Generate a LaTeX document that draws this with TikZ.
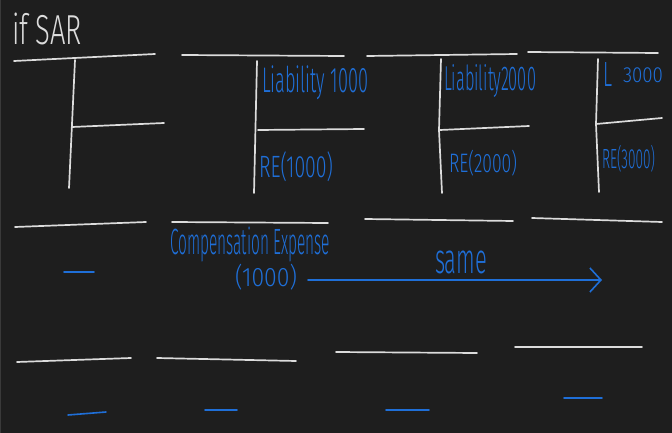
\documentclass[tikz,border=0pt]{standalone}
\usepackage{fontspec}
\usepackage{graphicx}
\setmainfont{Fira Sans Light}
\usetikzlibrary{arrows.meta}
\definecolor{bgdark}{HTML}{1E1E1E}
\definecolor{chalk}{HTML}{DCDCDC}
\definecolor{handblue}{HTML}{1F6FD8}
\definecolor{edgegray}{HTML}{3A3A3A}
\newcommand{\handtext}[3]{\resizebox*{#1pt}{#2pt}{#3}}
\begin{document}
\begin{tikzpicture}[x=1pt,y=-1pt,
  chalk/.style={draw=chalk, line width=1.7pt, line cap=round, line join=round},
  ink/.style={draw=handblue, line width=1.6pt, line cap=round},
  txt/.style={inner sep=0pt, outer sep=0pt, anchor=north west, text=handblue},
]
\fill[bgdark] (0,0) rectangle (672,433);
\useasboundingbox (0,0) rectangle (672,433);
\draw[edgegray, line width=1pt] (0.5,0) -- (0.5,433);

% title
\node[txt, text=chalk] (title) at (12,13) {\handtext{70}{32}{if SAR}};

% T-account 1
\draw[chalk] (14,61) -- (155,54);
\draw[chalk] (75,60) -- (69,188);
\draw[chalk] (72,127) -- (164,123);

% T-account 2
\draw[chalk] (182,55) -- (344,56);
\draw[chalk] (257,61) -- (254,193);
\draw[chalk] (258,130) -- (364,129);
\node[txt] (liab1) at (262,66) {\handtext{106}{34}{Liability 1000}};
\node[txt] (re1) at (259,152) {\handtext{74}{30}{RE(1000)}};

% T-account 3
\draw[chalk] (367,56) -- (517,54);
\draw[chalk] (441,59) -- (439,130) -- (442,193);
\draw[chalk] (440,130) -- (529,126);
\node[txt] (liab2) at (444,65) {\handtext{92}{33}{Liability2000}};
\node[txt] (re2) at (449,150) {\handtext{68}{26}{RE(2000)}};

% T-account 4
\draw[chalk] (528,52) -- (658,53);
\draw[chalk] (598,59) -- (596,124) -- (599,192);
\draw[chalk] (596,124) -- (662,118);
\node[txt] (lthree) at (603,62) {\handtext{9}{24}{L}};
\node[txt] (lamt) at (623,68) {\handtext{40}{15}{3000}};
\node[txt] (re3) at (602,145) {\handtext{53}{27}{RE(3000)}};

% row 2
\draw[chalk] (15,227) -- (146,222);
\draw[chalk] (172,222) -- (328,223);
\draw[chalk] (365,219) -- (513,221);
\draw[chalk] (532,218) -- (662,222);
\draw[ink] (64,272) -- (94,272);
\node[txt] (cexp1) at (170,227) {\handtext{160}{35}{Compensation Expense}};
\node[txt] (cexp2) at (235,264) {\handtext{62}{26}{(1000)}};
\node[txt] (same) at (435,251) {\handtext{52}{23}{same}};
\coordinate (arrstart) at (308,280);
\coordinate (arrend) at (602,280);
\draw[ink, -{Straight Barb[length=11pt,width=24pt]}] (arrstart) -- (arrend);

% row 3
\draw[chalk] (17,362) -- (131,358);
\draw[chalk] (157,358) -- (296,361);
\draw[chalk] (336,352) -- (477,353);
\draw[chalk] (515,347) -- (642,347);

% row 4
\draw[ink] (68,415) -- (106,412);
\draw[ink] (205,410) -- (237,410);
\draw[ink] (386,410) -- (429,410);
\draw[ink] (564,398) -- (602,398);
\end{tikzpicture}
\end{document}
